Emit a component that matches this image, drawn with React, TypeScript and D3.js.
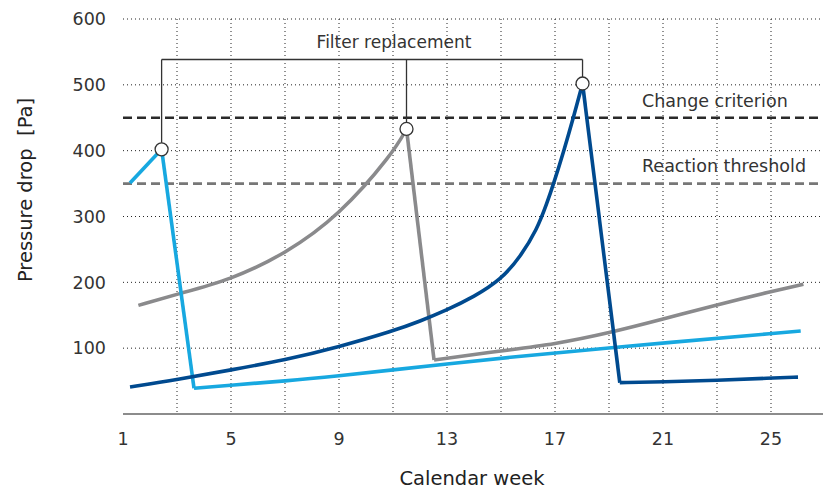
import React from "react";
import * as d3 from "d3";

// weeks / pressure drop [Pa]
const lightBlueWeeks = [1.26, 2.43, 3.63, 5, 7, 9, 11, 13, 15, 19.1, 26.1];
const lightBlueValues = [351, 402, 39, 44, 50, 58, 67, 76, 85, 101, 126];

const grayWeeks = [1.57, 3, 5, 7, 9, 11, 11.5, 12.52, 15, 17, 19, 21, 23, 25, 26.2];
const grayValues = [165, 182, 204, 243, 301, 396, 433, 82, 96, 106, 123, 144, 166, 186, 197];

const darkBlueWeeks = [1.26, 3, 5, 7, 9, 11, 12, 13, 14, 15, 15.72, 16.33, 16.7, 16.95, 17.33, 17.68, 18.02, 19.4, 21, 23, 25, 26];
const darkBlueValues = [41, 52, 67, 82, 102, 126, 141, 158, 178, 204, 239, 280, 320, 350, 400, 450, 502, 47.6, 49, 51, 54.7, 56];

// replacement points (peaks)
const replaceWeeks = [2.43, 11.5, 18.02];
const replaceValues = [402, 433, 502];

const xTicks = [1, 5, 9, 13, 17, 21, 25];
const xGrid = [3, 5, 7, 9, 11, 13, 15, 17, 19, 21, 23, 25];
const yTicks = [100, 200, 300, 400, 500, 600];

const changeCriterion = 450;
const reactionThreshold = 350;

const W = 823;
const H = 491;
const font = "'DejaVu Sans', sans-serif";

const x = d3.scaleLinear().domain([1, 27]).range([123, 825]);
const y = d3.scaleLinear().domain([0, 600]).range([414, 19]);

// split a series at the drops (filter replaced) so each part keeps its own shape
function segments(weeks: number[], values: number[]) {
  const out: [number, number][][] = [];
  let cur: [number, number][] = [];
  weeks.forEach((w, i) => {
    cur.push([w, values[i]]);
    if (i < weeks.length - 1 && values[i + 1] < values[i] - 100) {
      out.push(cur);
      out.push([[w, values[i]], [weeks[i + 1], values[i + 1]]]);
      cur = [];
    }
  });
  out.push(cur);
  return out;
}

const line = d3
  .line<[number, number]>()
  .x((d) => x(d[0]))
  .y((d) => y(d[1]))
  .curve(d3.curveBasis);

function Series({ weeks, values, color }: { weeks: number[]; values: number[]; color: string }) {
  const segs = segments(weeks, values);
  return (
    <g fill="none" stroke={color} strokeWidth={3.6} strokeLinejoin="miter">
      {segs.map((s, i) => (
        <path key={i} d={line(s) || ""} />
      ))}
    </g>
  );
}

const App = () => {
  const bracketY = 59.5;
  return (
    <svg
      width={W}
      height={H}
      style={{ position: "absolute", left: 0, top: 0, background: "#fff" }}
      fontFamily={font}
    >
      {/* grid */}
      <g stroke="#222" strokeWidth={1} strokeDasharray="1 3">
        {yTicks.map((t) => (
          <line key={"h" + t} x1={x(1)} x2={W} y1={y(t)} y2={y(t)} />
        ))}
        {xGrid.map((t) => (
          <line key={"v" + t} x1={x(t)} x2={x(t)} y1={y(600)} y2={y(0)} />
        ))}
      </g>
      <line x1={x(1)} x2={W} y1={y(0)} y2={y(0)} stroke="#666" strokeWidth={1.6} />

      {/* thresholds */}
      <line x1={x(1)} x2={W} y1={y(changeCriterion)} y2={y(changeCriterion)} stroke="#2a2a2a" strokeWidth={2.6} strokeDasharray="9 5" />
      <line x1={x(1)} x2={W} y1={y(reactionThreshold)} y2={y(reactionThreshold)} stroke="#777" strokeWidth={2.6} strokeDasharray="9 5" />
      <text x={642} y={y(changeCriterion) - 11} fontSize={17.5} fill="#333">Change criterion</text>
      <text x={642} y={y(reactionThreshold) - 12} fontSize={17.5} fill="#333">Reaction threshold</text>

      {/* series */}
      <Series weeks={grayWeeks} values={grayValues} color="#8a8a8c" />
      <Series weeks={lightBlueWeeks} values={lightBlueValues} color="#17a8e0" />
      <Series weeks={darkBlueWeeks} values={darkBlueValues} color="#004a8f" />

      {/* filter replacement bracket */}
      <g stroke="#333" strokeWidth={1.3} fill="none">
        <line x1={x(replaceWeeks[0])} x2={x(replaceWeeks[2])} y1={bracketY} y2={bracketY} />
        {replaceWeeks.map((w, i) => (
          <line key={i} x1={x(w)} x2={x(w)} y1={bracketY} y2={y(replaceValues[i])} />
        ))}
      </g>
      {replaceWeeks.map((w, i) => (
        <circle key={i} cx={x(w)} cy={y(replaceValues[i])} r={6.5} fill="#fff" stroke="#333" strokeWidth={1.3} />
      ))}
      <text x={394} y={48} textAnchor="middle" fontSize={17} fill="#333">Filter replacement</text>

      {/* axis labels */}
      {yTicks.map((t) => (
        <text key={t} x={106} y={y(t)} dy="0.36em" textAnchor="end" fontSize={17.5} fill="#333">
          {t}
        </text>
      ))}
      {xTicks.map((t) => (
        <text key={t} x={x(t)} y={445} textAnchor="middle" fontSize={17.5} fill="#333">
          {t}
        </text>
      ))}
      <text x={472} y={485} textAnchor="middle" fontSize={19.5} fill="#222">Calendar week</text>
      <text transform="translate(32,190) rotate(-90)" textAnchor="middle" fontSize={19.5} fill="#222">
        {"Pressure drop\u00a0 [Pa]"}
      </text>
    </svg>
  );
};

export default App;
